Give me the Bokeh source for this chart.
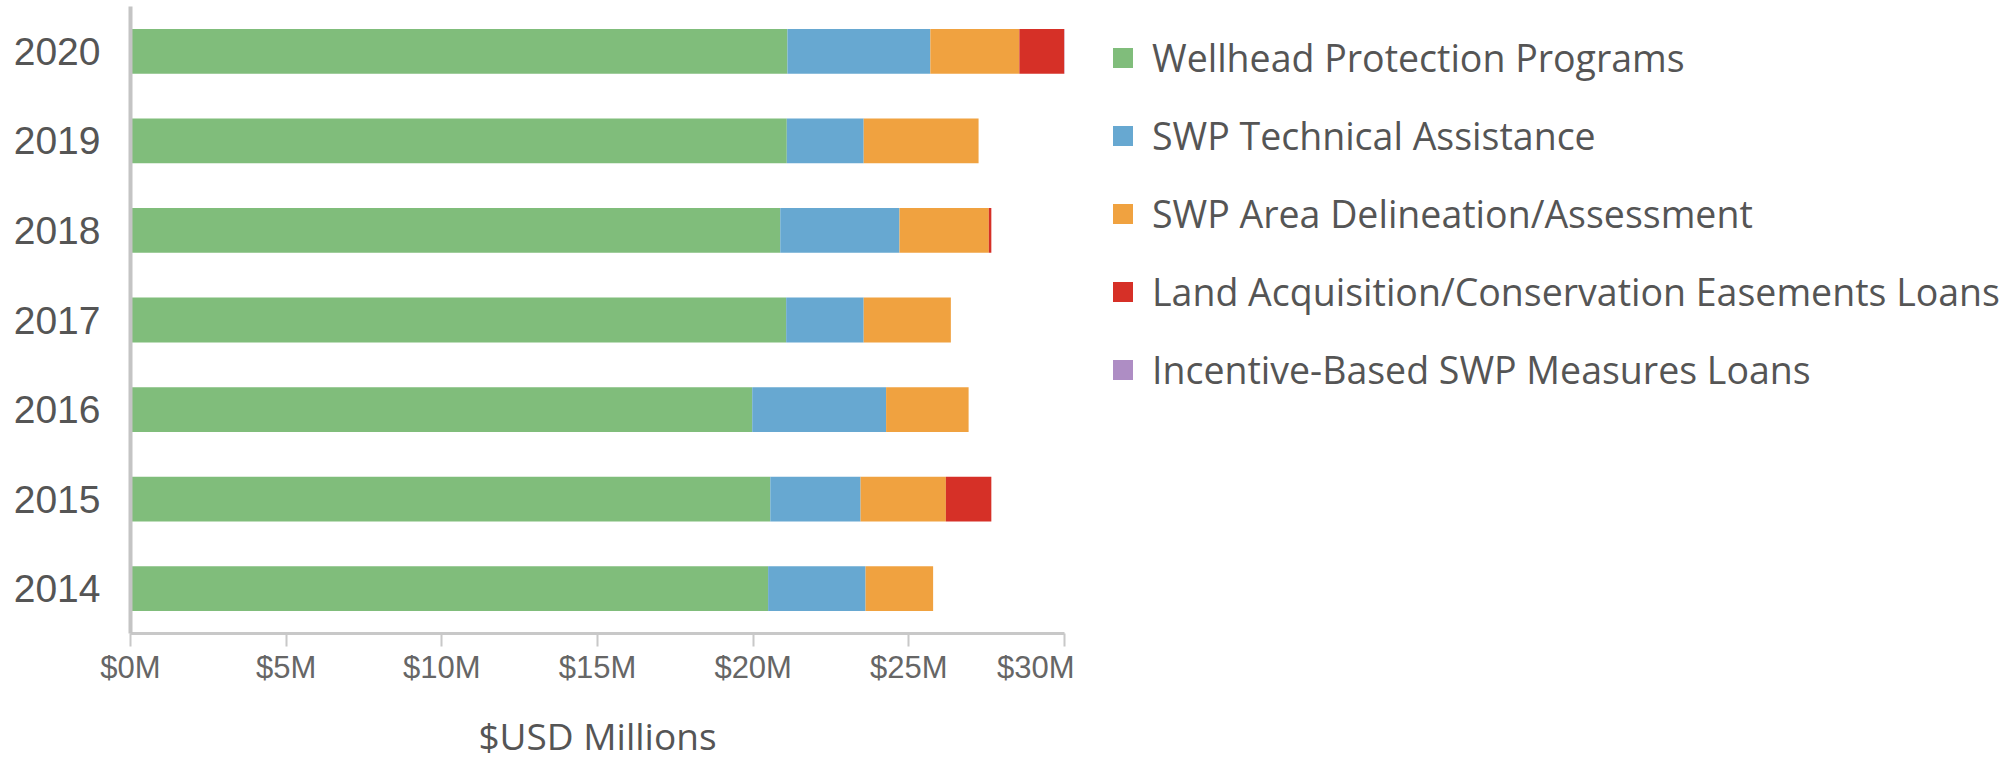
from bokeh.plotting import figure
from bokeh.layouts import row
from bokeh.models import ColumnDataSource, FactorRange, Range1d, FixedTicker, Legend, LegendItem
from bokeh.embed import file_html
from bokeh.resources import INLINE

years = ["2014", "2015", "2016", "2017", "2018", "2019", "2020"]
series = [
    "Wellhead Protection Programs",
    "SWP Technical Assistance",
    "SWP Area Delineation/Assessment",
    "Land Acquisition/Conservation Easements Loans",
    "Incentive-Based SWP Measures Loans",
]
wellhead = [20.48, 20.55, 19.97, 21.06, 20.87, 21.08, 21.10]
technical = [3.13, 2.90, 4.30, 2.49, 3.83, 2.47, 4.59]
delineation = [2.17, 2.74, 2.65, 2.80, 2.87, 3.69, 2.86]
land = [0.0, 1.46, 0.0, 0.0, 0.08, 0.0, 1.49]
incentive = [0.0, 0.0, 0.0, 0.0, 0.0, 0.0, 0.0]
colors = ["#80BD7B", "#67A8D1", "#F0A240", "#D63027", "#AE8DC4"]
xticks = [0, 5, 10, 15, 20, 25, 30]
xtick_labels = ["$0M", "$5M", "$10M", "$15M", "$20M", "$25M", "$30M"]
x_title = "$USD Millions"

keys = ["s0", "s1", "s2", "s3", "s4"]
source = ColumnDataSource(dict(year=years, s0=wellhead, s1=technical, s2=delineation, s3=land, s4=incentive))

W_CHART = 130 + 934 + 10
W_LEG = 2011 - W_CHART

# ---- chart ----
p = figure(width=W_CHART, height=759, frame_width=934, frame_height=627,
           y_range=FactorRange(factors=years, range_padding=0),
           x_range=Range1d(xticks[0], xticks[-1]), output_backend="svg", toolbar_location=None,
           min_border_left=130, min_border_right=10, min_border_top=6, min_border_bottom=126)
p.outline_line_color = None
p.xgrid.visible = False
p.ygrid.visible = False

p.hbar_stack(keys, y="year", height=0.5, color=colors, line_color=None, source=source)

xa = p.xaxis[0]
xa.ticker = FixedTicker(ticks=xticks)
xa.major_label_overrides = {t: l for t, l in zip(xticks, xtick_labels)}
xa.minor_tick_line_color = None
xa.major_tick_out = 13
xa.major_tick_in = 0
xa.major_tick_line_color = "#C8C8C8"
xa.major_tick_line_width = 2
xa.axis_line_color = "#C8C8C8"
xa.axis_line_width = 3
xa.major_label_standoff = 3
xa.major_label_text_font = "Liberation Sans"
xa.major_label_text_font_size = "31px"
xa.major_label_text_color = "#666666"
xa.axis_label = x_title
xa.axis_label_text_font = "Open Sans"
xa.axis_label_text_font_size = "37px"
xa.axis_label_text_font_style = "normal"
xa.axis_label_text_color = "#555555"
xa.axis_label_standoff = 22

ya = p.yaxis[0]
ya.major_tick_line_color = None
ya.minor_tick_line_color = None
ya.axis_line_color = "#C4C4C4"
ya.axis_line_width = 4
ya.major_label_standoff = 24
ya.major_label_text_font = "Liberation Sans"
ya.major_label_text_font_size = "39px"
ya.major_label_text_color = "#555555"

# ---- legend panel ----
q = figure(width=W_LEG, height=759, frame_width=W_LEG, frame_height=627,
           y_range=FactorRange(factors=years, range_padding=0),
           x_range=Range1d(xticks[0], xticks[-1]), output_backend="svg", toolbar_location=None,
           x_axis_location=None, y_axis_location=None,
           min_border_left=0, min_border_right=0, min_border_top=6, min_border_bottom=126)
q.outline_line_color = None
q.xgrid.visible = False
q.ygrid.visible = False
leg_renderers = q.hbar_stack(keys, y="year", height=0.5, color=colors, line_color=None,
                             source=source, visible=False)

legend = Legend(items=[LegendItem(label=n, renderers=[r]) for n, r in zip(series, leg_renderers)],
                location=(1110 - W_CHART, 238), orientation="vertical")
legend.border_line_color = None
legend.background_fill_alpha = 0
legend.inactive_fill_alpha = 0
legend.padding = 0
legend.margin = 0
legend.glyph_width = 25
legend.glyph_height = 25
legend.label_standoff = 17
legend.label_height = 51
legend.spacing = 27
legend.label_text_font = "Open Sans"
legend.label_text_font_size = "37.5px"
legend.label_text_color = "#555555"
q.add_layout(legend, "center")

layout = row(p, q)
open("out.html", "w").write(file_html(layout, INLINE))
